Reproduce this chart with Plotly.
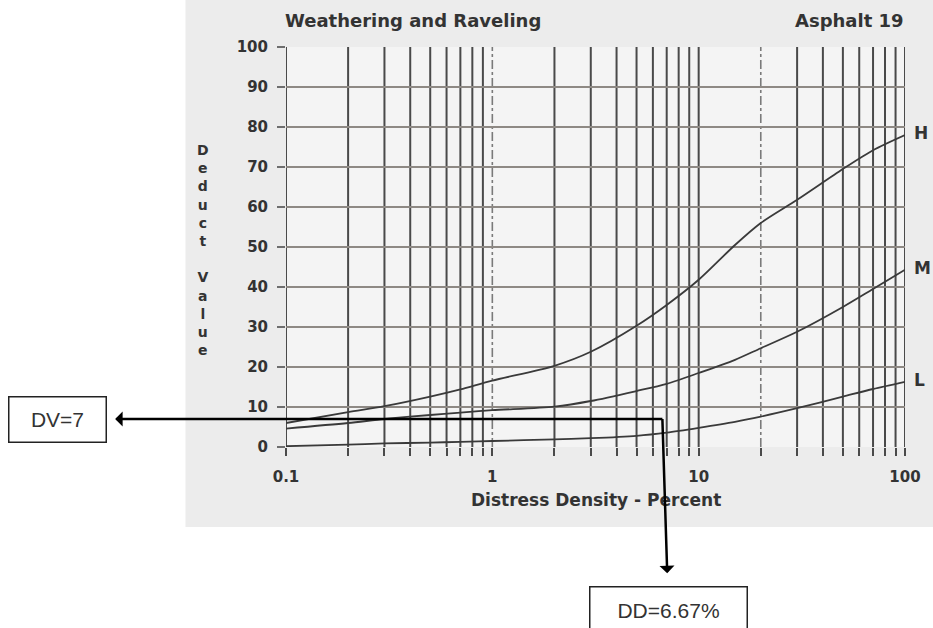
import math
import plotly.graph_objects as go

# Deduct curves for weathering and raveling (asphalt, distress 19)
DENSITY = [0.1, 0.2, 0.3, 0.5, 0.7, 1, 2, 3, 5, 7, 10, 15, 20, 30, 50, 70, 100]
HIGH = [6.0, 8.7, 10.2, 12.6, 14.4, 16.6, 20.3, 23.8, 30.3, 35.5, 41.8, 50.5, 56.0, 61.8, 69.5, 74.2, 78.0]
MEDIUM = [4.6, 6.0, 7.0, 8.0, 8.6, 9.2, 10.1, 11.5, 14.0, 15.8, 18.5, 21.8, 24.7, 28.8, 35.0, 39.5, 44.3]
LOW = [0.2, 0.6, 0.9, 1.1, 1.3, 1.5, 1.9, 2.2, 2.8, 3.6, 4.8, 6.3, 7.6, 9.7, 12.6, 14.5, 16.3]
SEVERITY = ["H", "M", "L"]

Y_TICKS = list(range(0, 101, 10))
DECADES = [0.1, 1, 10]
DECADE_LABELS = {0.1: "0.1", 1: "1", 10: "10", 100: "100"}
DASHED_X = [1, 20]

# worked example
DD_VALUE = 6.67
DV_VALUE = 7

W, H = 933, 628
L_M, R_M, T_M, B_M = 286, 25, 47, 181
PW, PH = W - L_M - R_M, H - T_M - B_M

grid_x = [round(d * k, 4) for d in DECADES for k in range(1, 10)] + [100]
tick_text = [DECADE_LABELS.get(v, "") for v in grid_x]

bold = dict(family="DejaVu Sans", weight="bold", color="#333333")
box_font = dict(family="Liberation Sans", size=21, color="#333333")

fig = go.Figure()
for vals in (HIGH, MEDIUM, LOW):
    fig.add_trace(go.Scatter(
        x=DENSITY, y=vals, mode="lines",
        line=dict(color="#3a3a3a", width=1.8, shape="spline", smoothing=0.8),
        hoverinfo="skip", showlegend=False,
    ))


def px_to_paper_x(px):
    return (px - L_M) / PW


def px_to_paper_y(py):
    return (H - B_M - py) / PH


shapes = [
    # scanned sheet
    dict(type="rect", xref="paper", yref="paper", layer="below",
         x0=px_to_paper_x(185), x1=px_to_paper_x(W + 5),
         y0=px_to_paper_y(527), y1=px_to_paper_y(-5),
         fillcolor="#ececec", line=dict(width=0)),
    # chart field
    dict(type="rect", xref="paper", yref="paper", layer="below",
         x0=0, x1=1, y0=0, y1=1,
         fillcolor="#f4f4f4", line=dict(width=0)),
]
for gx in grid_x:
    dashed = gx in DASHED_X
    shapes.append(dict(
        type="line", xref="x", yref="y", layer="below",
        x0=gx, x1=gx, y0=0, y1=100,
        line=dict(color="#7a7a7a" if dashed else "#4a4a4a",
                  width=1.6 if dashed else 2.0,
                  dash="dashdot" if dashed else "solid"),
    ))

annotations = [
    dict(text="Weathering and Raveling", xref="paper", yref="paper",
         x=0, y=1, xanchor="left", yanchor="middle", xshift=-3, yshift=27,
         showarrow=False, font=dict(size=18, **bold)),
    dict(text="Asphalt 19", xref="paper", yref="paper",
         x=1, y=1, xanchor="right", yanchor="middle", xshift=1, yshift=27,
         showarrow=False, font=dict(size=18, **bold)),
    dict(text="<br>".join(list("Deduct Value")), xref="paper", yref="paper",
         x=0, y=0.5, xanchor="center", yanchor="middle", xshift=-83, yshift=-3,
         showarrow=False, font=dict(size=14, **bold)),
    dict(text="Distress Density - Percent", xref="paper", yref="paper",
         x=0.5, y=0, xanchor="center", yanchor="middle", yshift=-53,
         showarrow=False, font=dict(size=17, **bold)),
]
# severity labels at the right-hand end of each curve (log axis -> log10 position)
for name, vals in zip(SEVERITY, (HIGH, MEDIUM, LOW)):
    annotations.append(dict(
        text=name, xref="x", yref="y", x=math.log10(DENSITY[-1]), y=vals[-1],
        xanchor="left", yanchor="middle", xshift=7, yshift=2,
        showarrow=False, font=dict(size=17, **bold),
    ))

dd_log = math.log10(DD_VALUE)
arrow_style = dict(
    showarrow=True, arrowside="start", arrowhead=2, arrowsize=1.5,
    arrowwidth=2.5, arrowcolor="#000000",
    bordercolor="#222222", borderwidth=1.5, borderpad=3,
    bgcolor="#ffffff", font=box_font,
)
# arrow to the deduct value box
annotations.append(dict(
    text="DV=7", xref="x", yref="y", x=dd_log, y=DV_VALUE,
    axref="pixel", ayref="pixel", ax=-605, ay=0,
    startstandoff=9, width=90, height=38, **arrow_style,
))
# arrow to the distress density box
annotations.append(dict(
    text="DD=6.67%", xref="x", yref="y", x=dd_log, y=DV_VALUE,
    axref="pixel", ayref="pixel", ax=6, ay=191,
    startstandoff=13, width=150, height=40, **arrow_style,
))

fig.update_layout(
    width=W, height=H,
    margin=dict(l=L_M, r=R_M, t=T_M, b=B_M),
    paper_bgcolor="#ffffff", plot_bgcolor="rgba(0,0,0,0)",
    shapes=shapes, annotations=annotations,
    xaxis=dict(
        type="log", range=[-1, 2],
        tickmode="array", tickvals=grid_x, ticktext=tick_text,
        showgrid=False, zeroline=False, showline=False,
        ticks="outside", ticklen=8, tickwidth=1.9, tickcolor="#4a4a4a",
        ticklabelstandoff=8, tickfont=dict(size=15, **bold),
    ),
    yaxis=dict(
        range=[0, 100], tickmode="array", tickvals=Y_TICKS,
        showgrid=True, gridcolor="#8e8984", gridwidth=1.5,
        zeroline=False, showline=False,
        ticks="outside", ticklen=8, tickwidth=1.6, tickcolor="#6e6e6e",
        ticklabelstandoff=6, tickfont=dict(size=15, **bold),
    ),
)

fig.write_html("out.html")
